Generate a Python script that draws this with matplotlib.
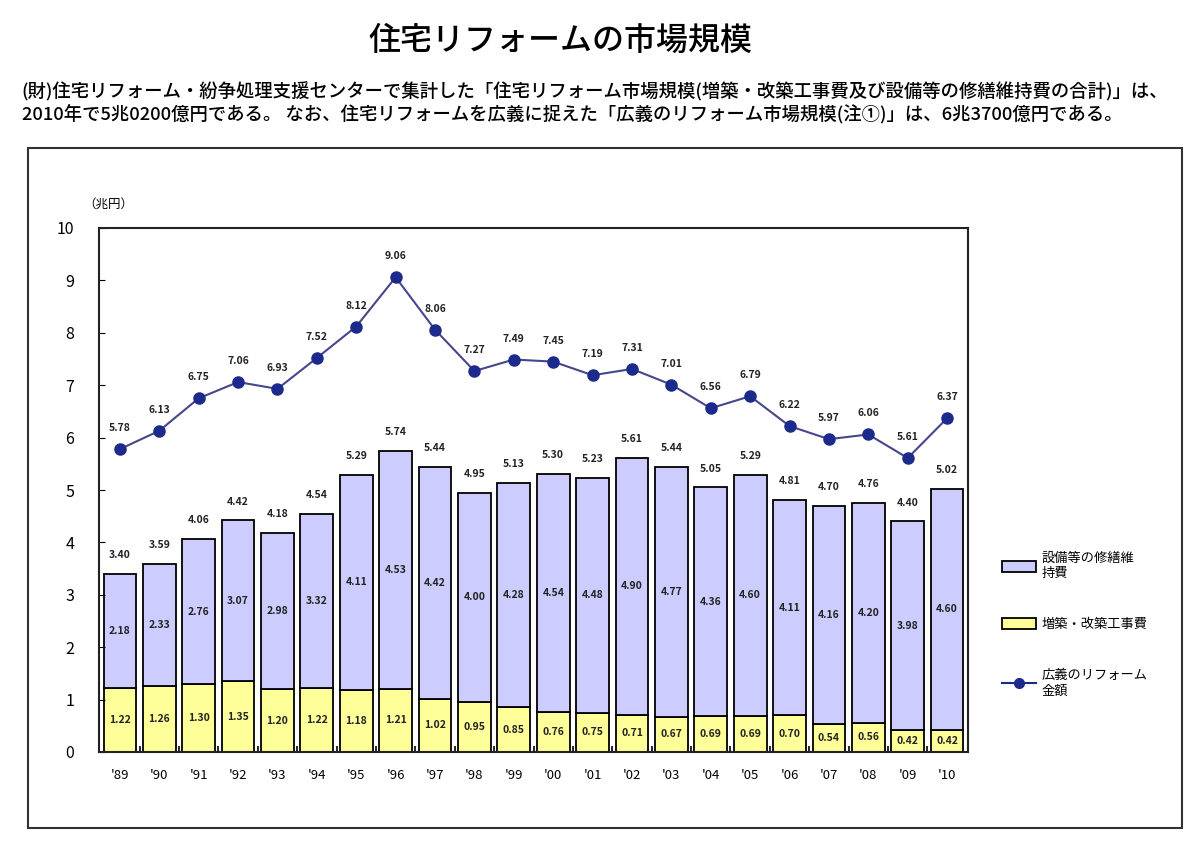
"""
Housing reform market size chart (1989-2010)
"""

import matplotlib
matplotlib.use("Agg")
import matplotlib.pyplot as plt
from matplotlib.patches import Rectangle, Patch
from matplotlib.lines import Line2D

plt.rcParams["font.family"] = ["Noto Sans CJK JP", "DejaVu Sans"]

# data
years = ["'89", "'90", "'91", "'92", "'93", "'94", "'95", "'96", "'97", "'98", "'99",
         "'00", "'01", "'02", "'03", "'04", "'05", "'06", "'07", "'08", "'09", "'10"]
extension = [1.22, 1.26, 1.30, 1.35, 1.20, 1.22, 1.18, 1.21, 1.02, 0.95, 0.85,
             0.76, 0.75, 0.71, 0.67, 0.69, 0.69, 0.70, 0.54, 0.56, 0.42, 0.42]
repair = [2.18, 2.33, 2.76, 3.07, 2.98, 3.32, 4.11, 4.53, 4.42, 4.00, 4.28,
          4.54, 4.48, 4.90, 4.77, 4.36, 4.60, 4.11, 4.16, 4.20, 3.98, 4.60]
totals = [3.40, 3.59, 4.06, 4.42, 4.18, 4.54, 5.29, 5.74, 5.44, 4.95, 5.13,
          5.30, 5.23, 5.61, 5.44, 5.05, 5.29, 4.81, 4.70, 4.76, 4.40, 5.02]
broad = [5.78, 6.13, 6.75, 7.06, 6.93, 7.52, 8.12, 9.06, 8.06, 7.27, 7.49,
         7.45, 7.19, 7.31, 7.01, 6.56, 6.79, 6.22, 5.97, 6.06, 5.61, 6.37]

purple = "#CCCCFF"
yellow = "#FFFF99"
navy = "#1C2A8C"
line_col = "#46468C"

fig = plt.figure(figsize=(12, 8.41), dpi=100)

# title and description
fig.text(0.467, 0.952, "住宅リフォームの市場規模", ha="center", va="center", fontsize=23,
         fontweight="medium")
fig.text(0.018, 0.891,
         "(財)住宅リフォーム・紛争処理支援センターで集計した「住宅リフォーム市場規模(増築・改築工事費及び設備等の修繕維持費の合計)」は、",
         ha="left", va="center", fontsize=13.2, fontweight="medium")
fig.text(0.018, 0.865,
         "2010年で5兆0200億円である。 なお、住宅リフォームを広義に捉えた「広義のリフォーム市場規模(注①)」は、6兆3700億円である。",
         ha="left", va="center", fontsize=13.2, fontweight="medium")

# outer frame
fig.patches.append(Rectangle((28 / 1200, 1 - 828 / 841), (1182 - 28) / 1200, (828 - 148) / 841,
                             transform=fig.transFigure, fill=False, edgecolor="#333333", lw=1.5))

ax = fig.add_axes([99 / 1200, 1 - 752 / 841, (968 - 99) / 1200, (752 - 228) / 841])

x = list(range(len(years)))
ax.bar(x, extension, width=0.83, color=yellow, edgecolor="black", linewidth=1.3)
ax.bar(x, repair, width=0.83, bottom=extension, color=purple, edgecolor="black", linewidth=1.3)
ax.plot(x, broad, color=line_col, lw=1.5, marker="o", markersize=8,
        markerfacecolor=navy, markeredgecolor=navy, zorder=5)

lab = dict(ha="center", va="center", fontsize=7.5, fontweight="bold", color="#222222")
for i in x:
    ax.text(i, extension[i] / 2, f"{extension[i]:.2f}", **lab)
    ax.text(i, extension[i] + repair[i] / 2, f"{repair[i]:.2f}", **lab)
    ax.text(i, totals[i] + 0.36, f"{totals[i]:.2f}", **lab)
    ax.text(i, broad[i] + 0.4, f"{broad[i]:.2f}", **lab)

ax.set_xlim(-0.53, 21.53)
ax.set_ylim(0, 10)
ax.set_yticks(range(0, 11))
ax.set_xticks(x)
ax.set_xticklabels(years)
ax.set_xticks([i + 0.5 for i in x[:-1]], minor=True)
ax.tick_params(axis="y", direction="in", length=4, labelsize=11.5, pad=18)
ax.tick_params(axis="x", which="major", length=0, labelsize=9.5, pad=12)
ax.tick_params(axis="x", which="minor", direction="in", length=4, width=1.2)
for s in ax.spines.values():
    s.set_linewidth(1.5)
    s.set_color("#222222")

ax.text(-0.018, 1.045, "（兆円）", transform=ax.transAxes, ha="left", va="center", fontsize=9)

handles = [Patch(facecolor=purple, edgecolor="black", lw=1.3),
           Patch(facecolor=yellow, edgecolor="black", lw=1.3),
           Line2D([], [], color=navy, marker="o", markersize=7)]
labels = ["設備等の修繕維\n持費", "増築・改築工事費", "広義のリフォーム\n金額"]
fig.legend(handles, labels, loc="upper left", bbox_to_anchor=(0.825, 1 - 540 / 841),
           frameon=False, fontsize=9.5, labelspacing=2.9, handlelength=2.6,
           handleheight=0.9, handletextpad=0.4)

fig.savefig("out.png", dpi=100)
